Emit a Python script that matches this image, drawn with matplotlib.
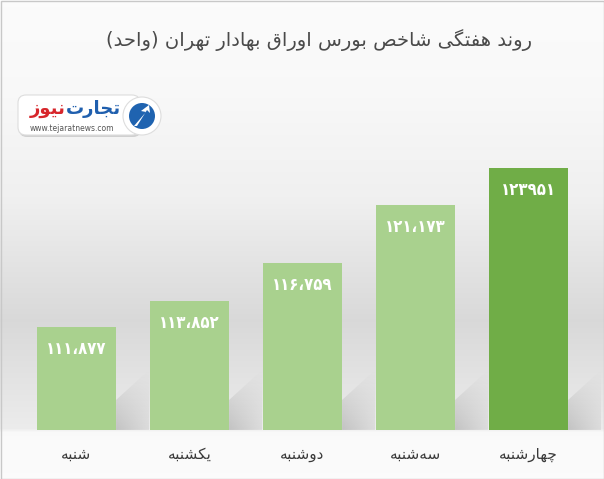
import numpy as np
import matplotlib
matplotlib.use("Agg")
import matplotlib.pyplot as plt
from matplotlib.patches import Polygon, Rectangle, FancyBboxPatch, Circle

days = ['شنبه', 'یکشنبه', 'دوشنبه', 'سه\u200cشنبه', 'چهارشنبه']
values = [111877, 113852, 116759, 121173, 123951]
value_labels = ['۱۱۱،۸۷۷', '۱۱۳،۸۵۲', '۱۱۶،۷۵۹', '۱۲۱،۱۷۳', '۱۲۳۹۵۱']
bar_colors = ['#a9d18e', '#a9d18e', '#a9d18e', '#a9d18e', '#70ad47']
title = 'روند هفتگی شاخص بورس اوراق بهادار تهران (واحد)'

# presentation forms: isolated, final, initial, medial (2 entries = joins only to the right)
FORMS = {
    'ا': ('\uFE8D', '\uFE8E'),
    'ب': ('\uFE8F', '\uFE90', '\uFE91', '\uFE92'),
    'ت': ('\uFE95', '\uFE96', '\uFE97', '\uFE98'),
    'ج': ('\uFE9D', '\uFE9E', '\uFE9F', '\uFEA0'),
    'چ': ('\uFB7A', '\uFB7B', '\uFB7C', '\uFB7D'),
    'ح': ('\uFEA1', '\uFEA2', '\uFEA3', '\uFEA4'),
    'خ': ('\uFEA5', '\uFEA6', '\uFEA7', '\uFEA8'),
    'د': ('\uFEA9', '\uFEAA'),
    'ر': ('\uFEAD', '\uFEAE'),
    'ز': ('\uFEAF', '\uFEB0'),
    'س': ('\uFEB1', '\uFEB2', '\uFEB3', '\uFEB4'),
    'ش': ('\uFEB5', '\uFEB6', '\uFEB7', '\uFEB8'),
    'ص': ('\uFEB9', '\uFEBA', '\uFEBB', '\uFEBC'),
    'ف': ('\uFED1', '\uFED2', '\uFED3', '\uFED4'),
    'ق': ('\uFED5', '\uFED6', '\uFED7', '\uFED8'),
    'ک': ('\uFB8E', '\uFB8F', '\uFB90', '\uFB91'),
    'گ': ('\uFB92', '\uFB93', '\uFB94', '\uFB95'),
    'ن': ('\uFEE5', '\uFEE6', '\uFEE7', '\uFEE8'),
    'ه': ('\uFEE9', '\uFEEA', '\uFEEB', '\uFEEC'),
    'و': ('\uFEED', '\uFEEE'),
    'ی': ('\uFBFC', '\uFBFD', '\uFBFE', '\uFBFF'),
}
MIRROR = {'(': ')', ')': '('}


def fa(s):
    # simple persian shaping + right-to-left ordering for matplotlib
    out = []
    for i, c in enumerate(s):
        if c not in FORMS:
            if c != '\u200c':
                out.append(c)
            continue
        prev = s[i - 1] if i > 0 else None
        nxt = s[i + 1] if i + 1 < len(s) else None
        jp = prev in FORMS and len(FORMS[prev]) == 4
        jn = nxt in FORMS and len(FORMS[c]) == 4
        f = FORMS[c]
        if jp and jn:
            out.append(f[3])
        elif jp:
            out.append(f[1])
        elif jn:
            out.append(f[2])
        else:
            out.append(f[0])
    return ''.join(MIRROR.get(c, c) for c in reversed(out))


W, H = 604, 479
fig = plt.figure(figsize=(W / 100, H / 100), dpi=100)
plt.rcParams['font.family'] = ['DejaVu Sans']

# background layer in pixel coordinates
bg = fig.add_axes([0, 0, 1, 1], zorder=0)
bg.set_xlim(0, W)
bg.set_ylim(H, 0)
bg.axis('off')
rows = np.arange(H)
shade = np.interp(rows, [0, 90, 200, 320, 428, 432, 479],
                  [0.985, 0.975, 0.94, 0.85, 0.925, 0.98, 0.985])
grad = np.repeat(shade[:, None], 3, axis=1)[:, None, :]
bg.imshow(grad, extent=[0, W, H, 0], aspect='auto', interpolation='bilinear', zorder=0)
bg.add_patch(Rectangle((0.5, 0.5), W - 1, H - 1, fill=False, edgecolor='#c8c8c8', lw=1, zorder=10))

ax = fig.add_axes([20 / W, 1 - 430 / H, 565 / W, 290 / H], zorder=1)
ax.patch.set_alpha(0)
x = np.arange(len(days))
bars = ax.bar(x, values, width=0.7, color=bar_colors, zorder=3)
ax.set_xlim(-0.5, len(days) - 0.5)
ax.set_ylim(104056, 126076)
for s in ax.spines.values():
    s.set_visible(False)
ax.set_yticks([])
ax.set_xticks(x)
ax.set_xticklabels([fa(d) for d in days], fontsize=11, color='#3a3a3a')
ax.tick_params(axis='x', length=0, pad=12)

for b, lab in zip(bars, value_labels):
    ax.annotate(lab, (b.get_x() + b.get_width() / 2, b.get_height()),
                xytext=(0, -16), textcoords='offset points', ha='center', va='center',
                color='white', fontsize=12, fontweight='bold', fontstretch='condensed', zorder=4)

# floor shadows to the right of each bar
fig.canvas.draw()
to_bg = bg.transData.inverted()
yy, xx = np.mgrid[0:1:50j, 0:1:20j]
alpha = 0.42 * yy * (1 - 0.6 * xx)
for b in bars:
    px, py = to_bg.transform(ax.transData.transform((b.get_x() + b.get_width(), 104056)))
    img = bg.imshow(np.dstack([np.full_like(alpha, 0.55)] * 3 + [alpha]),
                    extent=[px, px + 33, py, py - 60], aspect='auto', zorder=1)
    quad = Polygon([(px, py), (px + 33, py), (px + 33, py - 60), (px, py - 30)], closed=True,
                   transform=bg.transData, facecolor='none', edgecolor='none')
    bg.add_patch(quad)
    img.set_clip_path(quad)
bg.set_xlim(0, W)
bg.set_ylim(H, 0)

# title
bg.text(532, 40, fa(title), ha='right', va='center', fontsize=14, color='#4a4a4a')

# logo badge
bg.add_patch(FancyBboxPatch((21, 99), 118, 36, boxstyle='round,pad=2,rounding_size=8',
                            facecolor='#d0d0d0', edgecolor='none', zorder=5))
bg.add_patch(FancyBboxPatch((20, 97), 118, 36, boxstyle='round,pad=2,rounding_size=8',
                            facecolor='white', edgecolor='#dddddd', lw=0.8, zorder=6))
bg.add_patch(Circle((142, 116), 19, facecolor='white', edgecolor='#dddddd', lw=0.8, zorder=6))
bg.add_patch(Circle((142, 116), 13, facecolor='#1f63b0', edgecolor='none', zorder=7))
bg.add_patch(Polygon([(134, 126), (146, 112), (141, 111), (149, 105), (150, 113), (147, 110), (137, 126)],
                     closed=True, facecolor='white', edgecolor='none', zorder=8))
bg.text(121, 109, fa('تجارت'), ha='right', va='center', fontsize=13, fontweight='bold',
        color='#1f5fae', zorder=8)
bg.text(66, 109, fa('نیوز'), ha='right', va='center', fontsize=13, fontweight='bold',
        color='#d7262b', zorder=8)
bg.text(72, 128, 'www.tejaratnews.com', ha='center', va='center', fontsize=5.5,
        color='#555555', zorder=8)

fig.savefig('out.png', dpi=100)
